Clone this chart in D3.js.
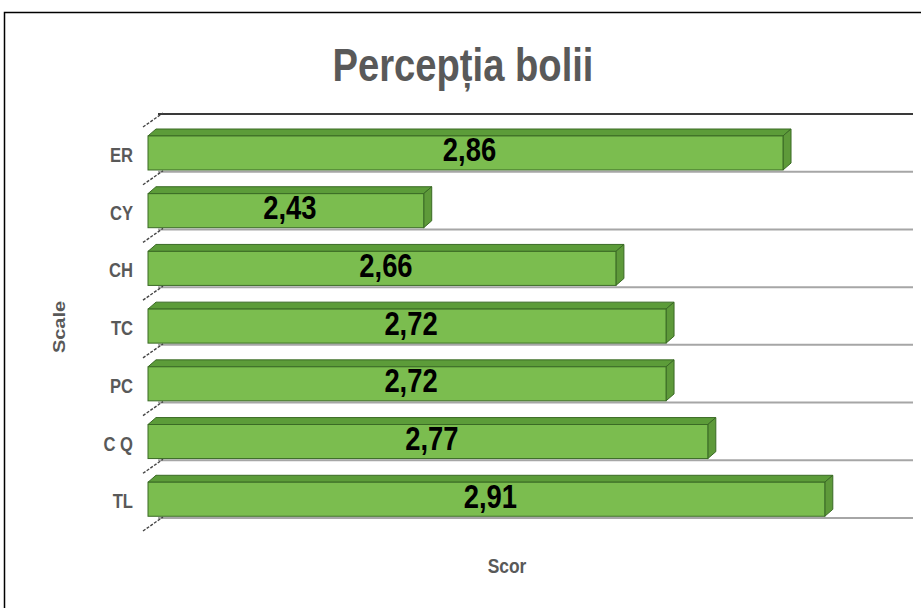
<!DOCTYPE html>
<html>
<head>
<meta charset="utf-8">
<script src="https://cdn.jsdelivr.net/npm/d3@7"></script>
<style>
  html, body { margin: 0; padding: 0; background: #fff; }
  svg { display: block; }
  text { font-family: "Liberation Sans", Arial, sans-serif; font-weight: bold; }
</style>
</head>
<body>
<svg id="chart" width="921" height="608"></svg>
<script>
// Scale names (top to bottom) and their mean scores
const categories = ["ER", "CY", "CH", "TC", "PC", "C Q", "TL"];
const scores = [2.86, 2.43, 2.66, 2.72, 2.72, 2.77, 2.91];
const valueLabels = ["2,86", "2,43", "2,66", "2,72", "2,72", "2,77", "2,91"];
const scoreDomain = [2.1, 3.0];

const chartTitle = "Percepția bolii";
const yTitle = "Scale";
const xTitle = "Scor";

const W = 921, H = 608;
const squeeze = 0.83;           // condensed look of the type
const svg = d3.select("#chart");

// frame
svg.append("rect")
  .attr("x", 4.5).attr("y", 12.5)
  .attr("width", W + 10).attr("height", H + 10)
  .attr("fill", "none").attr("stroke", "#000").attr("stroke-width", 1.5);

const x = d3.scaleLinear().domain(scoreDomain).range([148, 900]);
const y = d3.scaleBand().domain(categories).range([114, 518]).padding(0);
const step = y.step();

// 3D box geometry relative to each band
const frontTop = step * 0.38;
const frontH = step * 0.59;
const dX = 8;
const dY = step * 0.12;

// floor lines (band boundaries)
const bounds = d3.range(categories.length + 1).map(i => 114 + i * step);
svg.append("g").selectAll("line")
  .data(bounds)
  .join("line")
  .attr("x1", 158).attr("x2", 913)
  .attr("y1", d => d).attr("y2", d => d)
  .attr("stroke", (d, i) => i === 0 ? "#3a3a3a" : "#a6a6a6")
  .attr("stroke-width", 2);

// dashed depth ticks on the left wall
svg.append("g").selectAll("line")
  .data(bounds)
  .join("line")
  .attr("x1", 143).attr("y1", d => d + 13)
  .attr("x2", 163).attr("y2", d => d - 1)
  .attr("stroke", "#444")
  .attr("stroke-width", 1.4)
  .attr("stroke-dasharray", "3,1.5");

const rows = categories.map((c, i) => ({ cat: c, v: scores[i], label: valueLabels[i] }));
const x0 = x(scoreDomain[0]);

const bars = svg.append("g").selectAll("g")
  .data(rows)
  .join("g");

// top face
bars.append("path")
  .attr("d", d => {
    const t = y(d.cat) + frontTop, x1 = x(d.v);
    return `M${x0},${t}L${x0 + dX},${t - dY}L${x1 + dX},${t - dY}L${x1},${t}Z`;
  })
  .attr("fill", "#5c9c39")
  .attr("stroke", "#3a6a25").attr("stroke-width", 1);

// right face
bars.append("path")
  .attr("d", d => {
    const t = y(d.cat) + frontTop, x1 = x(d.v);
    return `M${x1},${t}L${x1 + dX},${t - dY}L${x1 + dX},${t + frontH - dY}L${x1},${t + frontH}Z`;
  })
  .attr("fill", "#5e9a3a")
  .attr("stroke", "#3a6a25").attr("stroke-width", 1);

// front face
bars.append("rect")
  .attr("x", x0)
  .attr("y", d => y(d.cat) + frontTop)
  .attr("width", d => x(d.v) - x0)
  .attr("height", frontH)
  .attr("fill", "#7bbd4f")
  .attr("stroke", "#3a6a25").attr("stroke-width", 1);

// value labels, centred on each bar
bars.append("text")
  .attr("transform", d => {
    const cx = (x0 + x(d.v) + dX) / 2;
    const cy = y(d.cat) + frontTop + (frontH - dY) / 2;
    return `translate(${cx},${cy + 12}) scale(${squeeze},1)`;
  })
  .attr("text-anchor", "middle")
  .attr("font-size", 33)
  .attr("fill", "#000")
  .text(d => d.label);

// category labels
svg.append("g").selectAll("text")
  .data(rows)
  .join("text")
  .attr("transform", d => `translate(133,${y(d.cat) + frontTop + frontH / 2 + 9}) scale(${squeeze},1)`)
  .attr("text-anchor", "end")
  .attr("font-size", 20)
  .attr("fill", "#595959")
  .text(d => d.cat);

// titles
svg.append("text")
  .attr("transform", `translate(463,81) scale(${squeeze},1)`)
  .attr("text-anchor", "middle")
  .attr("font-size", 46)
  .attr("fill", "#595959")
  .text(chartTitle);

svg.append("text")
  .attr("transform", `translate(65,327) scale(${squeeze},1) rotate(-90)`)
  .attr("text-anchor", "middle")
  .attr("font-size", 20)
  .attr("fill", "#595959")
  .text(yTitle);

svg.append("text")
  .attr("transform", `translate(507,573) scale(${squeeze},1)`)
  .attr("text-anchor", "middle")
  .attr("font-size", 21)
  .attr("fill", "#595959")
  .text(xTitle);
</script>
</body>
</html>
